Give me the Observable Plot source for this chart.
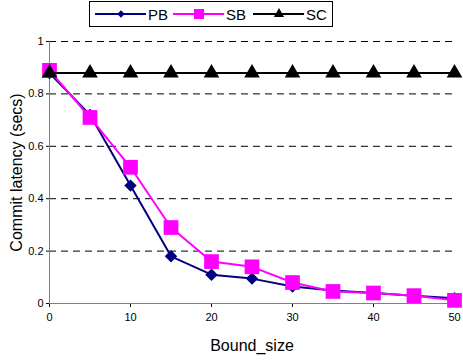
<!DOCTYPE html>
<html>
<head>
<meta charset="utf-8">
<script src="https://cdn.jsdelivr.net/npm/d3@7"></script>
<script src="https://cdn.jsdelivr.net/npm/@observablehq/plot@0.6"></script>
<style>
  body { margin: 0; background: #fff; font-family: "Liberation Sans", Arial, sans-serif; }
  #wrap { position: relative; width: 463px; height: 360px; }
  #legend { position: absolute; left: 89px; top: 1px; width: 242px; height: 24px; border: 1px solid #000; background: #fff; display: flex; align-items: center; font-size: 15px; }
  #legend .item { display: flex; align-items: center; position: absolute; top: 0; height: 24px; }
  #legend svg { display: block; }
</style>
</head>
<body>
<div id="wrap"><div id="chart"></div><div id="legend"></div></div>
<script>
const boundSize = [0, 5, 10, 15, 20, 25, 30, 35, 40, 45, 50];
const pbValues = [0.88, 0.72, 0.45, 0.18, 0.11, 0.095, 0.065, 0.05, 0.04, 0.03, 0.02];
const sbValues = [0.89, 0.71, 0.52, 0.29, 0.16, 0.14, 0.08, 0.046, 0.04, 0.03, 0.012];
const scValues = [0.88, 0.88, 0.88, 0.88, 0.88, 0.88, 0.88, 0.88, 0.88, 0.88, 0.88];
const seriesNames = ["PB", "SB", "SC"];
const xTicks = [0, 10, 20, 30, 40, 50];
const yTicks = [0, 0.2, 0.4, 0.6, 0.8, 1];
const gridValues = [0.2, 0.4, 0.6, 0.8, 1];

const colors = {PB: "#000080", SB: "#ff00ff", SC: "#000000"};
const symbols = {PB: "diamond2", SB: "square", SC: "triangle"};
const radii = {PB: 5.6, SB: 8.3, SC: 5.8};
const legendSizes = {PB: 36, SB: 100, SC: 45};

const seriesValues = {PB: pbValues, SB: sbValues, SC: scValues};
const data = seriesNames.flatMap(s => boundSize.map((b, i) => ({series: s, x: b, y: seriesValues[s][i]})));

const marks = [
  Plot.ruleY(gridValues, {stroke: "#000", strokeWidth: 1, strokeDasharray: "7,5"}),
  Plot.ruleX([0], {stroke: "#808080", strokeWidth: 1}),
  Plot.ruleY([0], {stroke: "#808080", strokeWidth: 1})
];
for (const s of seriesNames) {
  const d = data.filter(r => r.series === s);
  marks.push(Plot.line(d, {x: "x", y: "y", stroke: colors[s], strokeWidth: 2}));
  marks.push(Plot.dot(d, {x: "x", y: "y", symbol: () => symbols[s], r: radii[s], fill: colors[s], stroke: "none"}));
}

const chart = Plot.plot({
  width: 463,
  height: 360,
  marginLeft: 49,
  marginRight: 9,
  marginTop: 41,
  marginBottom: 57,
  style: {fontFamily: "'Liberation Sans', Arial, sans-serif", fontSize: "11px", background: "#fff", color: "#000"},
  x: {domain: [0, 50], ticks: xTicks, tickSize: 4, tickPadding: 6, tickFormat: d => String(d), label: "Bound_size", labelArrow: false, labelAnchor: "center", labelOffset: 47},
  y: {domain: [0, 1], ticks: yTicks, tickSize: 3, tickPadding: 3, tickFormat: d => String(d), label: "Commit latency (secs)", labelArrow: false, labelAnchor: "center", labelOffset: 39},
  symbol: {type: "identity"},
  marks
});
document.getElementById("chart").appendChild(chart);
// enlarge axis titles
chart.querySelectorAll("g[aria-label='x-axis label'] text, g[aria-label='y-axis label'] text, g[aria-label='x-axis'] > text, g[aria-label='y-axis'] > text").forEach(t => t.style.fontSize = "16px");

// legend
const legend = document.getElementById("legend");
const legendPos = {PB: 5, SB: 83, SC: 163};
for (const s of seriesNames) {
  const item = document.createElement("div");
  item.className = "item";
  item.style.left = legendPos[s] + "px";
  const sym = d3.symbol().type({diamond2: d3.symbolDiamond2, square: d3.symbolSquare, triangle: d3.symbolTriangle}[symbols[s]]).size(legendSizes[s])();
  item.innerHTML = `<svg width="52" height="24"><line x1="0" x2="51" y1="12" y2="12" stroke="${colors[s]}" stroke-width="2"/><path d="${sym}" transform="translate(26,12)" fill="${colors[s]}"/></svg><span style="margin-left:1px">${s}</span>`;
  legend.appendChild(item);
}
</script>
</body>
</html>
